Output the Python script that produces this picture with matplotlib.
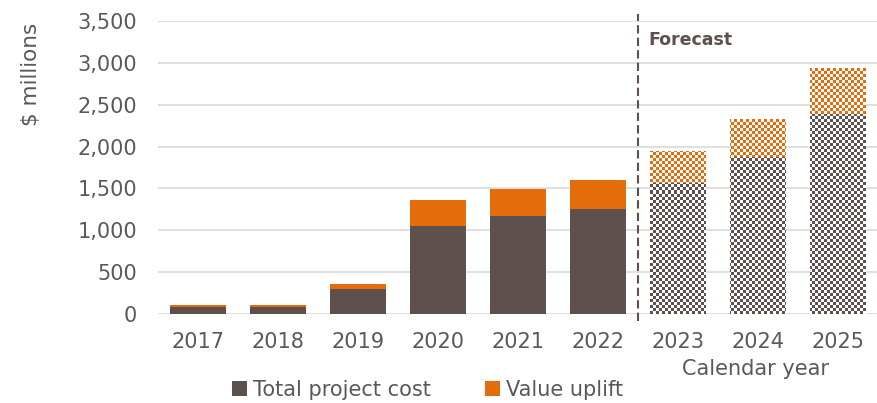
import numpy as np
import matplotlib
matplotlib.use("Agg")
import matplotlib.pyplot as plt
from matplotlib.colors import ListedColormap

years = ["2017", "2018", "2019", "2020", "2021", "2022", "2023", "2024", "2025"]
total_cost = [85, 85, 295, 1050, 1170, 1255, 1565, 1870, 2390]
value_uplift = [22, 22, 63, 310, 325, 345, 385, 460, 550]
n_actual = 6

brown = "#5E504D"
orange = "#E46C0A"
grey = "#595959"

plt.rcParams["font.family"] = ["DejaVu Sans"]

fig = plt.figure(figsize=(8.78, 4.03), dpi=100)
ax = fig.add_axes([0.18, 0.221, 0.82, 0.727])

x = np.arange(len(years))
w = 0.69
b1 = ax.bar(x, total_cost, w, color=brown, label="Total project cost", zorder=2)
b2 = ax.bar(x, value_uplift, w, bottom=total_cost, color=orange, label="Value uplift", zorder=2)

# checker fill for the forecast bars (about 3 px cells)
ny, nx = 98, 240
checker = (np.indices((ny, nx)).sum(axis=0) % 2)
for bars, col in ((b1, brown), (b2, orange)):
    for p in bars.patches[n_actual:]:
        p.set_facecolor("white")
        im = ax.imshow(checker, cmap=ListedColormap(["white", col]), extent=(-0.5, 8.5, 0, 3500),
                       aspect="auto", interpolation="none", zorder=3)
        im.set_clip_path(p)
ax.set_xlim(-0.5, 8.5)
ax.set_ylim(0, 3500)

ax.set_yticks(np.arange(0, 3501, 500))
ax.set_yticklabels([f"{v:,}" for v in range(0, 3501, 500)])
ax.set_xticks(x)
ax.set_xticklabels(years)
ax.tick_params(length=0, labelsize=15, labelcolor=grey)
ax.tick_params(axis="x", pad=13)
ax.tick_params(axis="y", pad=15)
ax.grid(axis="y", color="#d9d9d9", linewidth=1.2, zorder=0)
ax.set_axisbelow(True)
for s in ax.spines.values():
    s.set_visible(False)

ax.plot([5.5, 5.5], [-80, 3580], color=brown, linestyle=(0, (4, 2)), linewidth=1.5,
        clip_on=False, zorder=4)
ax.text(5.63, 3270, "Forecast", fontsize=12.5, fontweight="bold", color=brown, va="center")

fig.text(0.035, 0.815, "$ millions", rotation=90, fontsize=15.5, color=grey, ha="center", va="center")
fig.text(0.861, 0.085, "Calendar year", fontsize=15, color=grey, ha="center", va="center")

fig.legend(handles=[b1, b2], loc="center", bbox_to_anchor=(0.487, 0.033), ncol=2, frameon=False,
           fontsize=15, labelcolor=grey, handlelength=0.7, handleheight=0.7, handletextpad=0.3,
           columnspacing=2.6)

fig.savefig("out.png", dpi=100)
